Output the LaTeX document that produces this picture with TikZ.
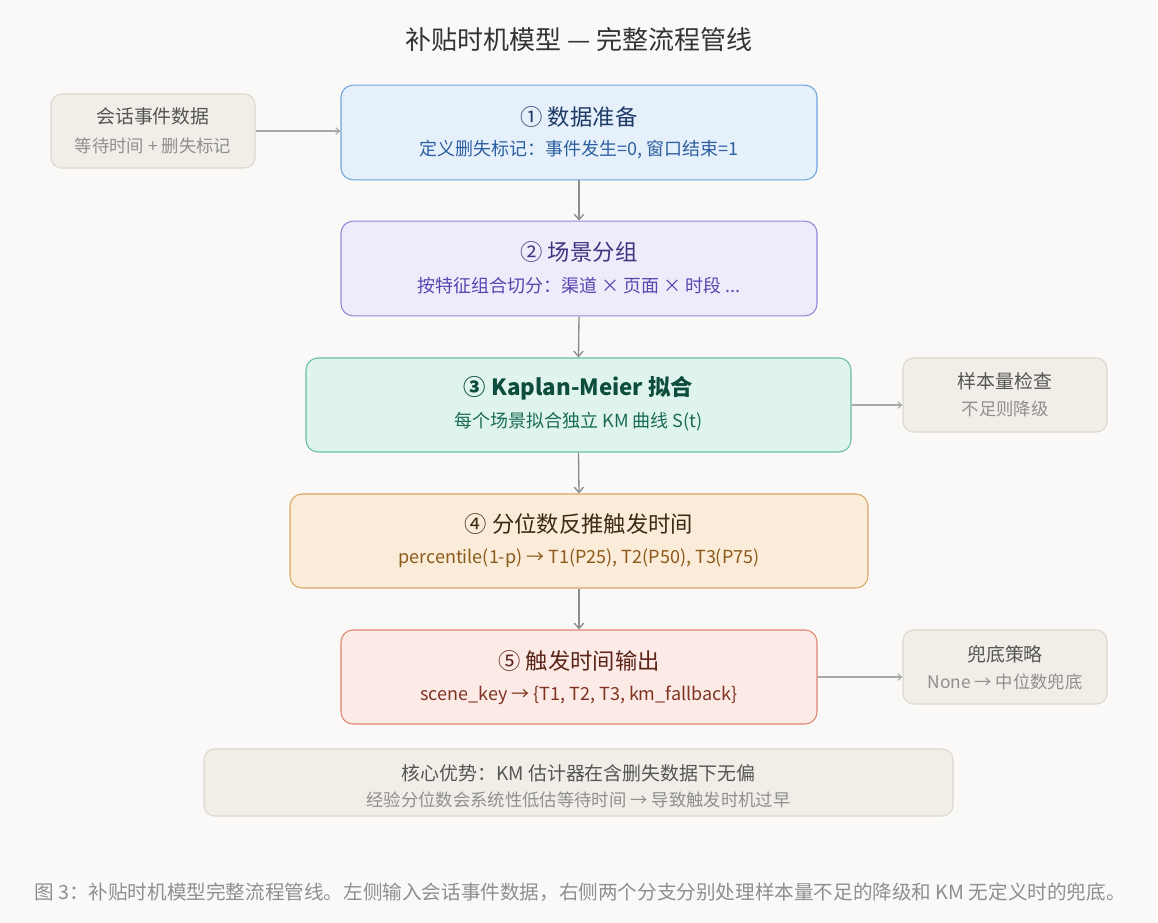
\documentclass[tikz,border=0pt]{standalone}
\usepackage{fontspec}
\setmainfont{Noto Sans CJK SC}
\usetikzlibrary{arrows.meta}
\definecolor{bg}{HTML}{FAF9F7}
\definecolor{arr}{HTML}{8C8C8C}
\definecolor{sarr}{HTML}{A8A8A8}
\definecolor{f1}{HTML}{E6F0FB}\definecolor{d1}{HTML}{6FA6DE}\definecolor{t1}{HTML}{1E3A66}\definecolor{s1}{HTML}{2C5FA0}
\definecolor{f2}{HTML}{EEEBFB}\definecolor{d2}{HTML}{9486D8}\definecolor{t2}{HTML}{3E3480}\definecolor{s2}{HTML}{5A44B0}
\definecolor{f3}{HTML}{E0F4EE}\definecolor{d3}{HTML}{66BE9F}\definecolor{t3}{HTML}{0D4D3D}\definecolor{s3}{HTML}{1A6B55}
\definecolor{f4}{HTML}{FBEBD9}\definecolor{d4}{HTML}{DBA766}\definecolor{t4}{HTML}{3D2A14}\definecolor{s4}{HTML}{8B5A1A}
\definecolor{f5}{HTML}{FBEAE6}\definecolor{d5}{HTML}{DE8470}\definecolor{t5}{HTML}{5C2418}\definecolor{s5}{HTML}{7F3320}
\definecolor{fg}{HTML}{F1EEE8}\definecolor{dg}{HTML}{DCD8D0}\definecolor{tg}{HTML}{555555}\definecolor{sg}{HTML}{8F8F8F}
\tikzset{
  mainbox/.style={draw, rounded corners=9pt, line width=0.8pt, minimum width=357pt, minimum height=71pt, inner sep=0pt},
  greybox/.style={draw=dg, fill=fg, rounded corners=8pt, line width=0.8pt, minimum width=153pt, minimum height=55.5pt, inner sep=0pt},
  ttl/.style={font=\fontsize{16.75pt}{20pt}\selectfont, inner sep=0pt},
  sub/.style={font=\fontsize{13.5pt}{16pt}\selectfont, inner sep=0pt},
  gttl/.style={font=\fontsize{14.2pt}{17pt}\selectfont, inner sep=0pt, text=tg},
  gsub/.style={font=\fontsize{13pt}{15pt}\selectfont, inner sep=0pt, text=sg},
  flow/.style={draw=arr, line width=1pt, -{Straight Barb[length=4pt,width=7pt]}},
  side/.style={draw=sarr, line width=0.8pt, -{Straight Barb[length=3pt,width=5pt]}},
}
\begin{document}
\begin{tikzpicture}[x=0.75pt,y=-0.75pt]
\fill[bg] (0,0) rectangle (1158,923);
\useasboundingbox (0,0) rectangle (1158,923);

\node[inner sep=0pt, text=black!80, font=\fontsize{19.5pt}{23pt}\selectfont] (title) at (579,40) {补贴时机模型 — 完整流程管线};

% main boxes
\node[mainbox, draw=d1, fill=f1] (b1) at (579,132.5) {};
\node[ttl, text=t1] (b1t) at (579,117) {① 数据准备};
\node[sub, text=s1] (b1s) at (579,150) {定义删失标记：事件发生=0, 窗口结束=1};

\node[mainbox, draw=d2, fill=f2] (b2) at (579,268.5) {};
\node[ttl, text=t2] (b2t) at (579,252) {② 场景分组};
\node[sub, text=s2] (b2s) at (579,286) {按特征组合切分：渠道 × 页面 × 时段 ...};

\node[mainbox, draw=d3, fill=f3, minimum width=408.75pt, minimum height=70.5pt] (b3) at (578.5,405) {};
\node[ttl, text=t3, font=\fontsize{16.75pt}{20pt}\selectfont\bfseries] (b3t) at (578.5,388) {③ Kaplan-Meier 拟合};
\node[sub, text=s3] (b3s) at (578.5,422) {每个场景拟合独立 KM 曲线 S(t)};

\node[mainbox, draw=d4, fill=f4, minimum width=433.5pt, minimum height=70.5pt] (b4) at (579,541) {};
\node[ttl, text=t4] (b4t) at (579,524) {④ 分位数反推触发时间};
\node[sub, text=s4] (b4s) at (579,558) {percentile(1-p) → T1(P25), T2(P50), T3(P75)};

\node[mainbox, draw=d5, fill=f5, minimum height=70.5pt] (b5) at (579,677) {};
\node[ttl, text=t5] (b5t) at (579,661) {⑤ 触发时间输出};
\node[sub, text=s5] (b5s) at (579,695) {scene\_key → \{T1, T2, T3, km\_fallback\}};

% grey side boxes
\node[greybox] (in) at (153,131) {};
\node[gttl] (int) at (153,116) {会话事件数据};
\node[gsub] (ins) at (153,146) {等待时间 + 删失标记};

\node[greybox] (c1) at (1005,395) {};
\node[gttl] (c1t) at (1005,381) {样本量检查};
\node[gsub] (c1s) at (1005,409) {不足则降级};

\node[greybox] (c2) at (1005,667) {};
\node[gttl] (c2t) at (1005,654) {兜底策略};
\node[gsub] (c2s) at (1005,682) {None → 中位数兜底};

\node[greybox, minimum width=561.75pt, minimum height=50.25pt] (adv) at (578.5,782.5) {};
\node[gttl] (advt) at (578.5,773) {核心优势：KM 估计器在含删失数据下无偏};
\node[gsub] (advs) at (578.5,800) {经验分位数会系统性低估等待时间 → 导致触发时机过早};

% connectors
\draw[flow] (b1.south) -- (b2.north);
\draw[flow] (b2.south) -- (b3.north);
\draw[flow] (b3.south) -- (b4.north);
\draw[flow] (b4.south) -- (b5.north);
\draw[side] (in.east) -- (in.east -| b1.west);
\draw[side] (b3.east) -- (b3.east -| c1.west);
\draw[side] (b5.east) -- (b5.east -| c2.west);

\node[anchor=west, inner sep=0pt, text=sg, font=\fontsize{14.7pt}{17pt}\selectfont] (cap) at (34,892) {图 3：补贴时机模型完整流程管线。左侧输入会话事件数据，右侧两个分支分别处理样本量不足的降级和 KM 无定义时的兜底。};
\end{tikzpicture}
\end{document}
